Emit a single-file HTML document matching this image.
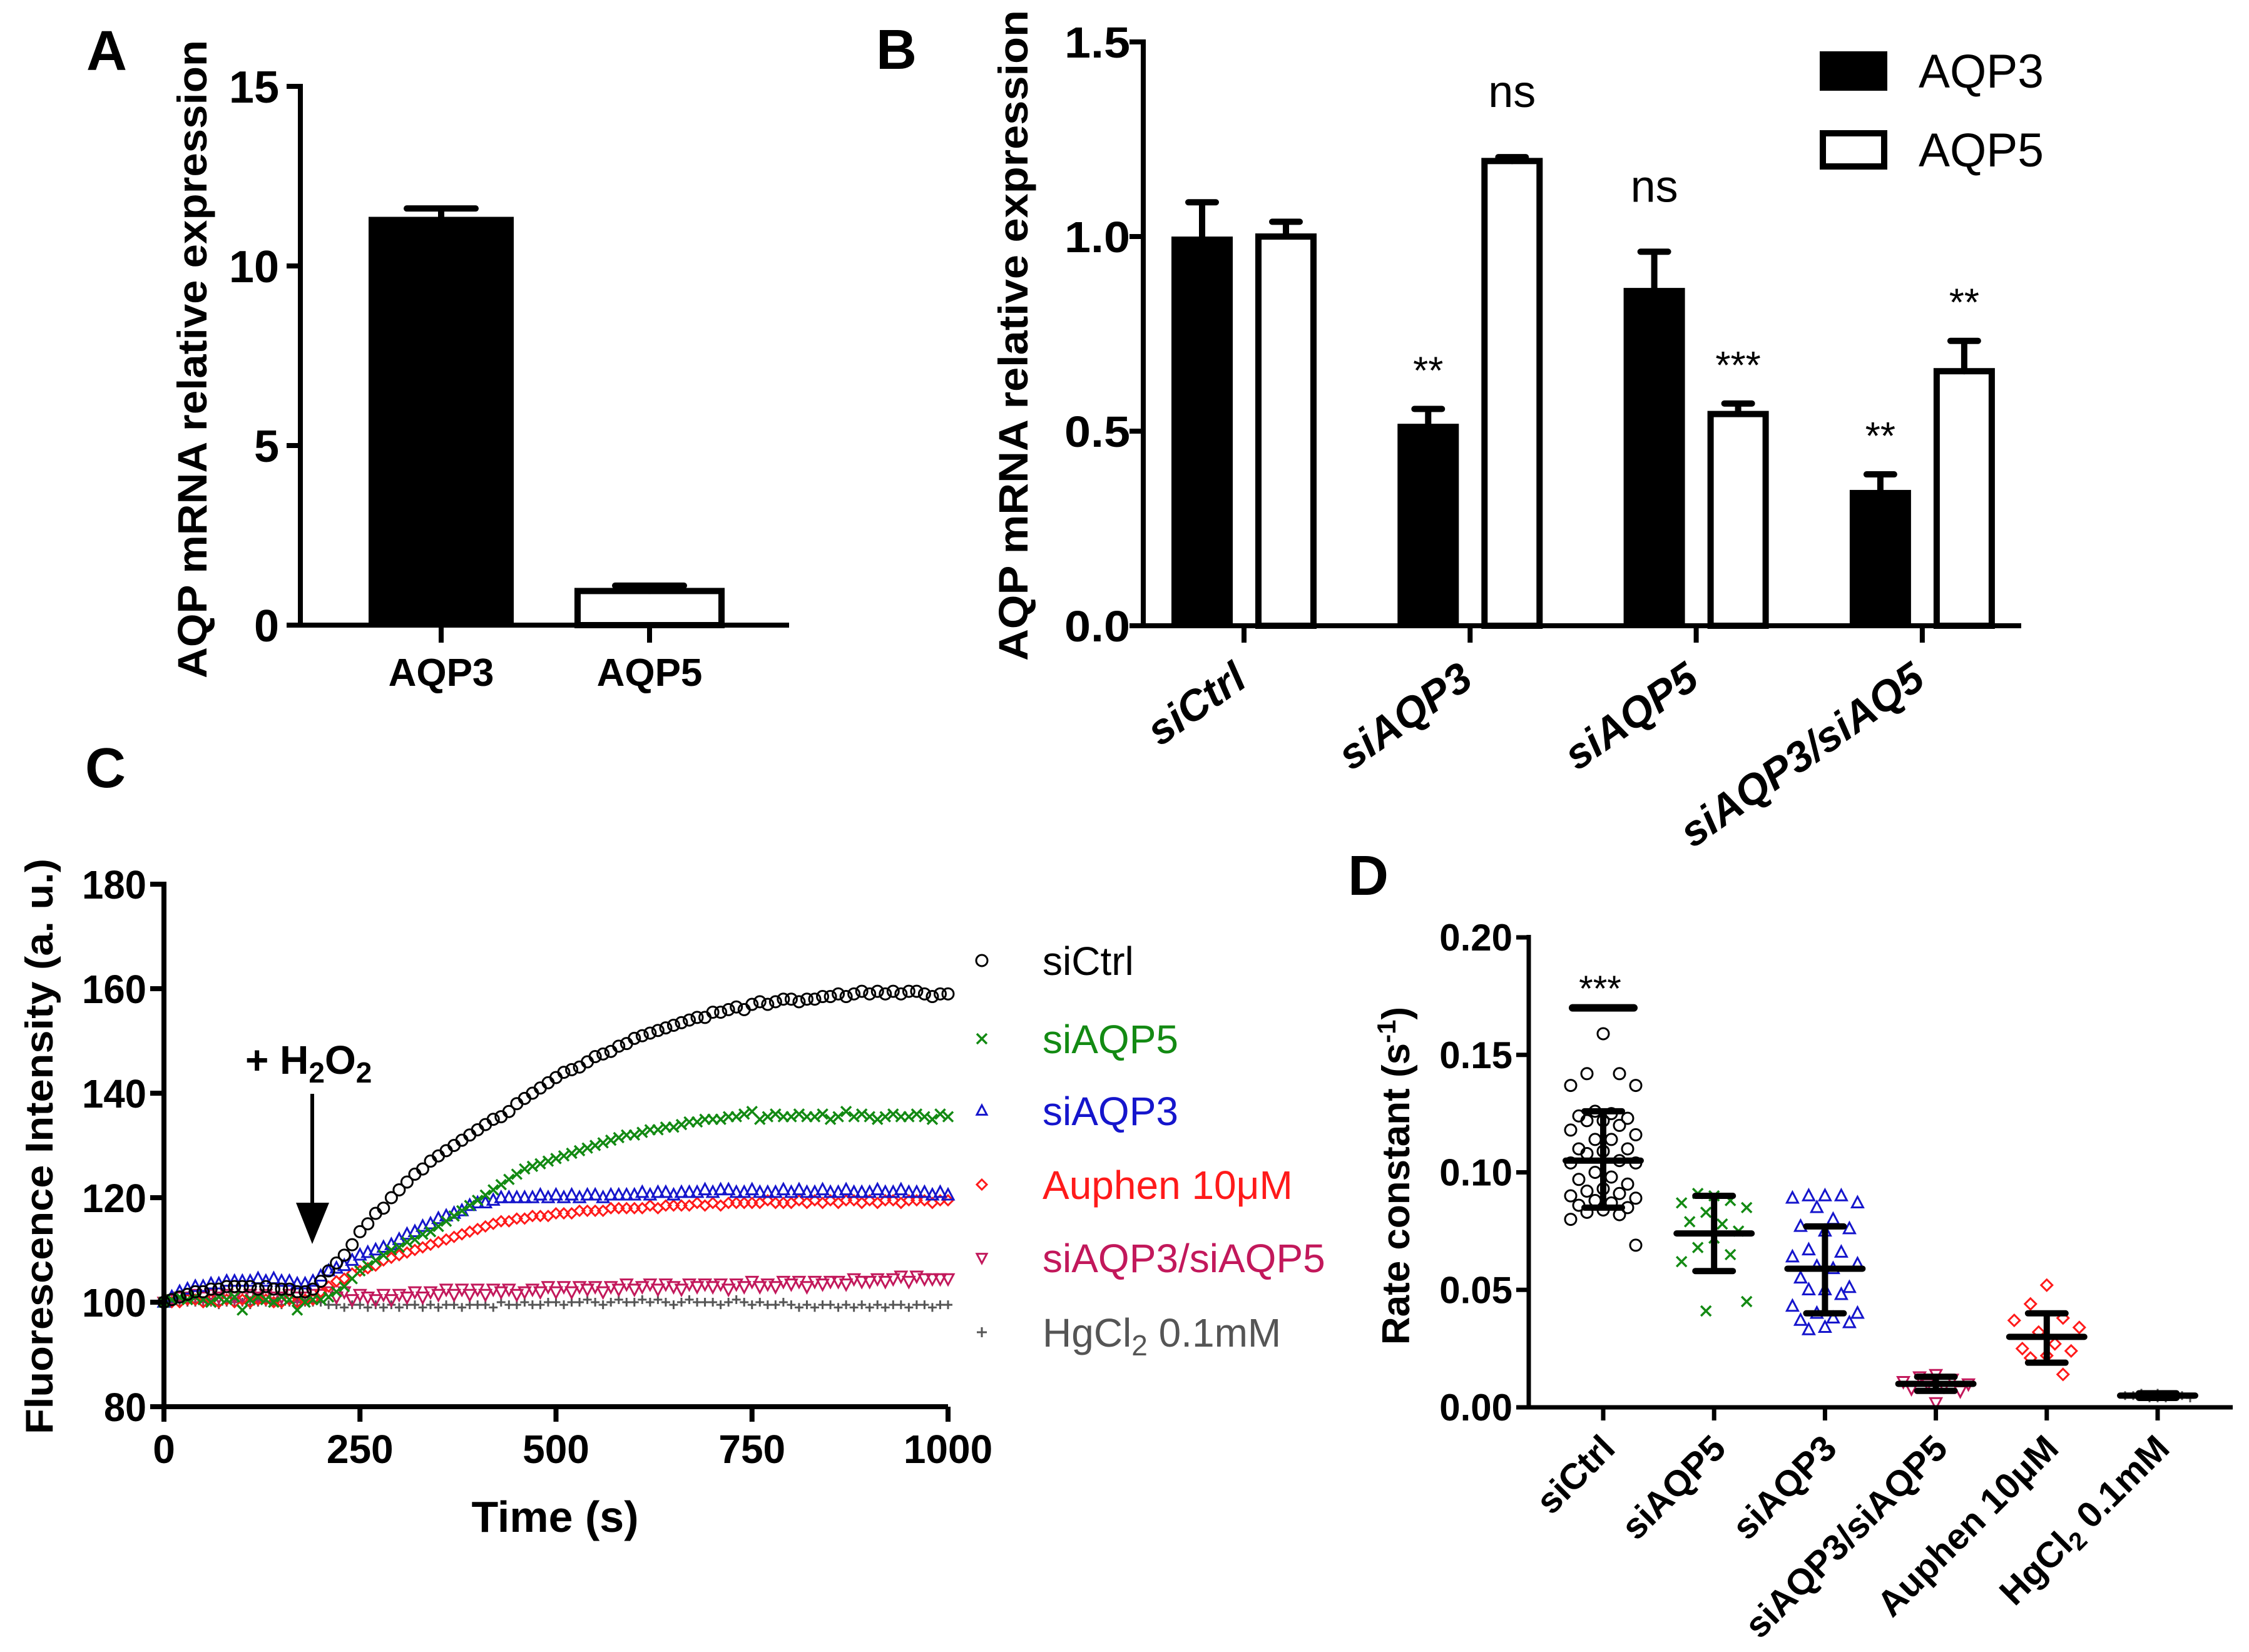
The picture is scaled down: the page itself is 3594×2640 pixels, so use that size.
<!DOCTYPE html>
<html><head><meta charset="utf-8"><style>
html,body{margin:0;padding:0;background:#fff;}
svg{display:block;font-family:"Liberation Sans",Arial,sans-serif;}
</style></head><body>
<svg id="fig" xmlns="http://www.w3.org/2000/svg" width="3594" height="2640" viewBox="0 0 3594 2640">
<rect width="3594" height="2640" fill="#fff"/>
<text x="138" y="112" font-size="90" font-weight="bold">A</text>
<text x="1400" y="110" font-size="90" font-weight="bold">B</text>
<text x="136" y="1258" font-size="90" font-weight="bold">C</text>
<text x="2154" y="1430" font-size="90" font-weight="bold">D</text>
<g id="pa"></g>
<g id="pb"></g>
<g id="pc"></g>
<g id="pd"></g>
</svg>
<script>
// ---------- Panel A data ----------
const aCats = ["AQP3","AQP5"];
const aVals = [11.35, 0.95];
const aErr = [11.6, 1.1];
const aTicks = [0,5,10,15];
// ---------- Panel B data ----------
const bCats = ["siCtrl","siAQP3","siAQP5","siAQP3/siAQ5"];
const bAqp3 = [1.0, 0.519, 0.868, 0.349];
const bAqp3Err = [1.088, 0.557, 0.961, 0.389];
const bAqp5 = [1.0, 1.194, 0.544, 0.654];
const bAqp5Err = [1.038, 1.204, 0.571, 0.732];
const bAqp3Sig = ["", "**", "ns", "**"];
const bAqp5Sig = ["", "ns", "***", "**"];
const bTicks = [0.0,0.5,1.0,1.5];
const bTickLabels = ["0.0","0.5","1.0","1.5"];
// ---------- Panel C data ----------
const cTime = [0,10,20,30,40,50,60,70,80,90,100,110,120,130,140,150,160,170,180,190,200,210,220,230,240,250,260,270,280,290,300,310,320,330,340,350,360,370,380,390,400,410,420,430,440,450,460,470,480,490,500,510,520,530,540,550,560,570,580,590,600,610,620,630,640,650,660,670,680,690,700,710,720,730,740,750,760,770,780,790,800,810,820,830,840,850,860,870,880,890,900,910,920,930,940,950,960,970,980,990,1000];
const cSiCtrl = [100,100.5,101,101.5,102,102,102.5,102.5,103,103,103,103,102.5,103,102.5,102.5,102.5,102,102,102.5,
104,106,107.5,109,111,113.5,115,117,118,120,
121.5,123,124.5,125.5,127,128,129,130,131,132,
133,134,135,135.5,136.5,138,139,140,141,142,
143,144,144.5,145,146,147,147.5,148,149,149.5,
150.5,151,151.5,152,152.5,153,153.5,154,154.5,154.5,
155.5,155.5,156,156.5,156,157,157.5,157,157.5,158,
158,157.5,158,158,158.5,158.5,159,158.5,159,159.5,
159,159.5,159,159.5,159,159.5,159.5,159,158.5,159,159];
const cSiAQP5 = [100,100.5,101,100.5,101,100.5,100,101,100.5,101,98.5,100.5,101,100.5,100,101,100.5,98.5,100,100.5,
100.5,101,102,103,104.5,106,107,108,109,110,
110.5,111.5,112,113,113.5,114.5,115.5,116.5,117.5,118.5,
119.5,120.5,121.5,122.5,123.5,124.5,125.5,126,126.5,127,
127.5,128,128.5,129,129.5,130,130.5,131,131.5,132,
132,132.5,133,133,133.5,133.5,134,134.5,134.5,135,
135,135,135.5,135.5,136,136.5,135,135.5,136,135.5,
135.5,136,135.5,135.5,136,135,135.5,136.5,135.5,136,
135.5,135,135.5,136,135.5,135.5,136,135.5,135,136,135.5];
const cSiAQP3 = [100,101,102,102.5,103,103,103.5,103.5,104,104,104,104,104.5,104,104.5,104,104,103.5,103.5,104,
105,106,106.5,107,108,109,109.5,110,110.5,111,
112,113,113.5,114.5,115,116,116.5,117,117.5,118.5,
119,119,119.5,120,120,120,120,120,120.5,120,
120.5,120,120.5,120,120.5,120.5,120,120.5,120.5,120.5,
120.5,121,120.5,121,121,120.5,121,121,121,121.5,
121,121.5,121.5,121,121,121.5,121,121,121,121.5,
121,121.5,121,121,121.5,121,121,121.5,121,121,
121,121.5,121,121,121.5,121,121,121,120.5,121,120.5];
const cAuphen = [100,100,100,100.5,100.5,100,100.5,100,100.5,100,100.5,100,100.5,100.5,100,100,100.5,100,100.5,100.5,
102,103,104,104.5,105.5,106,106.5,107,108,108.5,
109,109.5,110,110.5,111,111.5,112,112.5,113,113.5,
114,114.5,115,115.5,115.5,116,116,116.5,116.5,116.5,
117,117,117,117.5,117.5,117.5,117.5,118,118,118,
118,118,118.5,118,118.5,118.5,118.5,118.5,119,118.5,
119,118.5,119,119,119,119,119,119.5,119,119,
119,119.5,119,119.5,119,119.5,119,119.5,119.5,119,
119.5,119,119.5,119.5,119,119.5,119.5,119.5,119,119.5,119.5];
const cSi35 = [100,100.5,101,101,101.5,101,101.5,101,101.5,101,101,101.5,101,101.5,101,101,101.5,101,101,101.5,
101.5,102,101,102,100.5,101.5,101,100.5,101.5,100.5,
101.5,101,102,101,102,101.5,102.5,101.5,102.5,101.5,
102.5,101.5,102.5,102,102.5,101.5,102,102.5,102,103,
102,103,102,103,102.5,103,102,103,102.5,103.5,
102.5,103,103.5,102.5,103.5,103,102.5,103.5,103,103.5,
103,103.5,102.5,103.5,103,104,103,103.5,103,104,
103.5,104,103,104,103.5,104,104,103.5,104.5,104,
104,104.5,104,104.5,105,104,105,104.5,104.5,104.5,104.5];
const cHg = [100,100,100,100,100,100,100,99.5,100,100,100,99.5,100,100,100,99.5,100,100,100,100,
100,99.5,99.5,99,99.5,99.5,99,99.5,99,99.5,
99,99.5,99.5,99,99.5,99,99.5,99.5,99,99.5,
99.5,99.5,99,100,99.5,99.5,100,99.5,99.5,100,
100,99.5,100,100,100.5,100,99.5,100,100.5,100,
100,100.5,100,100.5,100,99.5,100,100.5,100,100,
100,99.5,100,100.5,100,99.5,100,99.5,99.5,100,
99.5,99,99.5,99,99.5,99.5,99,99.5,99,99.5,
99,99.5,99,99.5,99.5,99,99.5,99.5,99,99.5,99.5];
const cXTicks = [0,250,500,750,1000];
const cYTicks = [80,100,120,140,160,180];
// ---------- Panel D data ----------
const dCats = ["siCtrl","siAQP5","siAQP3","siAQP3/siAQP5","Auphen 10μM","HgCl2 0.1mM"];
const dSiCtrl = [0.159,0.142,0.142,0.137,0.137,0.126,0.125,0.124,0.123,0.122,0.122,0.12,0.118,0.116,0.114,0.114,0.11,0.11,0.109,0.108,0.105,0.104,0.104,0.1,0.098,0.097,0.095,0.093,0.092,0.091,0.09,0.089,0.088,0.087,0.086,0.085,0.084,0.083,0.082,0.08,0.069];
const dSiAQP5 = [0.09,0.091,0.088,0.087,0.085,0.083,0.078,0.079,0.075,0.072,0.068,0.065,0.062,0.045,0.041];
const dSiAQP3 = [0.09,0.09,0.09,0.089,0.087,0.085,0.08,0.077,0.076,0.075,0.067,0.066,0.064,0.061,0.06,0.059,0.055,0.051,0.05,0.05,0.048,0.043,0.04,0.04,0.038,0.037,0.036,0.034,0.033];
const dSi35 = [0.014,0.013,0.012,0.011,0.01,0.01,0.009,0.008,0.007,0.002];
const dAuphen = [0.052,0.044,0.038,0.037,0.034,0.032,0.027,0.025,0.024,0.022,0.021,0.014];
const dHg = [0.006,0.005,0.005,0.005,0.004,0.004,0.004,0.005,0.005,0.004,0.006,0.005];
const dMean = [0.105,0.074,0.059,0.010,0.030,0.005];
const dSdLow = [0.085,0.058,0.040,0.007,0.019,0.004];
const dSdHigh = [0.126,0.090,0.077,0.013,0.040,0.006];
const dYTicks = [0,0.05,0.1,0.15,0.2];
const dYTickLabels = ["0.00","0.05","0.10","0.15","0.20"];

const NS="http://www.w3.org/2000/svg";
function mk(parent,tag,attrs){const e=document.createElementNS(NS,tag);for(const k in attrs)e.setAttribute(k,attrs[k]);parent.appendChild(e);return e;}
function txt(parent,s,attrs){const e=mk(parent,"text",attrs);e.textContent=s;return e;}

// ===== Panel A =====
(function(){
const g=document.getElementById("pa");
const yA=v=>999-v*(861/15);
const xA=i=>705+i*333;
let ax=mk(g,"path",{d:"M480 134 V999 H1261",fill:"none",stroke:"#000","stroke-width":8});


aTicks.forEach(t=>{
 let tk=mk(g,"line",{x1:458,x2:480,y1:yA(t),y2:yA(t),stroke:"#000","stroke-width":8});
 
 
 let tl=txt(g,String(t),{x:446,y:yA(t)+26,"font-size":72,"font-weight":"bold","text-anchor":"end"});
 
 
});
aCats.forEach((c,i)=>{
 const cx=xA(i);
 let b=mk(g,"rect",{x:cx-115,y:yA(aVals[i]),width:230,height:999-yA(aVals[i]),fill:i==0?"#000":"#fff",stroke:"#000","stroke-width":i==0?2:10});
 
 
 let e=mk(g,"path",{d:`M${cx} ${yA(aVals[i])} V${yA(aErr[i])} M${cx-55} ${yA(aErr[i])} H${cx+55}`,stroke:"#000","stroke-width":10,"stroke-linecap":"round",fill:"none"});
 
 
 let tk=mk(g,"line",{x1:cx,x2:cx,y1:999,y2:1027,stroke:"#000","stroke-width":8});
 
 
 let tl=txt(g,c,{x:cx,y:1096,"font-size":62,"font-weight":"bold","text-anchor":"middle"});
 
 
});
let yt=txt(g,"AQP mRNA relative expression",{x:0,y:0,"font-size":66,"font-weight":"bold","text-anchor":"middle",transform:"translate(330 574) rotate(-90)",textLength:1020,lengthAdjust:"spacingAndGlyphs"});


})();

// ===== Panel B =====
(function(){
const g=document.getElementById("pb");
const yB=v=>1000-v*(933/1.5);
const xB=i=>1988+i*361.3;
let ax=mk(g,"path",{d:"M1827 63 V1000 H3230",fill:"none",stroke:"#000","stroke-width":8});


bTicks.forEach((t,i)=>{
 let tk=mk(g,"line",{x1:1805,x2:1827,y1:yB(t),y2:yB(t),stroke:"#000","stroke-width":8});
 
 
 let tl=txt(g,bTickLabels[i],{x:1806,y:yB(t)+25,"font-size":70,"font-weight":"bold","text-anchor":"end",textLength:105,lengthAdjust:"spacingAndGlyphs"});
 
 
});
bCats.forEach((c,i)=>{
 const cx=xB(i);
 const x3=cx-67, x5=cx+67;
 let b3=mk(g,"rect",{x:x3-49,y:yB(bAqp3[i]),width:98,height:1000-yB(bAqp3[i]),fill:"#000"});
 
 
 let b5=mk(g,"rect",{x:x5-44,y:yB(bAqp5[i]),width:88,height:1000-yB(bAqp5[i]),fill:"#fff",stroke:"#000","stroke-width":10});
 
 
 let e3=mk(g,"path",{d:`M${x3} ${yB(bAqp3[i])} V${yB(bAqp3Err[i])} M${x3-22} ${yB(bAqp3Err[i])} H${x3+22}`,stroke:"#000","stroke-width":10,"stroke-linecap":"round",fill:"none"});
 
 
 let e5=mk(g,"path",{d:`M${x5} ${yB(bAqp5[i])} V${yB(bAqp5Err[i])} M${x5-22} ${yB(bAqp5Err[i])} H${x5+22}`,stroke:"#000","stroke-width":10,"stroke-linecap":"round",fill:"none"});
 
 
 [[bAqp3Sig[i],x3,bAqp3Err[i]],[bAqp5Sig[i],x5,bAqp5Err[i]]].forEach(s=>{
  if(!s[0])return;
  const isNs=s[0]=="ns";
  let st=txt(g,s[0],{x:s[1],y:yB(s[2])-(isNs?80:40),"font-size":isNs?72:62,"text-anchor":"middle"});
  
  
 });
 let tk=mk(g,"line",{x1:cx,x2:cx,y1:1000,y2:1027,stroke:"#000","stroke-width":8});
 
 
 let tl=txt(g,c,{x:0,y:0,"font-size":68,"font-weight":"bold","font-style":"italic","text-anchor":"end",transform:`translate(${cx+8} 1094) rotate(-35)`});
 
 
});
let yt=txt(g,"AQP mRNA relative expression",{x:0,y:0,"font-size":66,"font-weight":"bold","text-anchor":"middle",transform:"translate(1642 536) rotate(-90)",textLength:1040,lengthAdjust:"spacingAndGlyphs"});


let l1=mk(g,"rect",{x:2908,y:82,width:108,height:63,fill:"#000"});


let l2=mk(g,"rect",{x:2913,y:213,width:98,height:53,fill:"#fff",stroke:"#000","stroke-width":10});


let t1=txt(g,"AQP3",{x:3066,y:140,"font-size":76,textLength:200,lengthAdjust:"spacingAndGlyphs"});


let t2=txt(g,"AQP5",{x:3066,y:266,"font-size":76,textLength:200,lengthAdjust:"spacingAndGlyphs"});


})();

// ===== Panel C =====
function marker(g,type,x,y,color,s){
 let e;
 if(type=="circle") e=mk(g,"circle",{cx:x,cy:y,r:s,fill:"none",stroke:color,"stroke-width":3});
 else if(type=="x") e=mk(g,"path",{d:`M${x-s} ${y-s}L${x+s} ${y+s}M${x-s} ${y+s}L${x+s} ${y-s}`,stroke:color,"stroke-width":3.5,fill:"none"});
 else if(type=="tri") e=mk(g,"path",{d:`M${x} ${y-s*1.1}L${x+s} ${y+s*0.8}L${x-s} ${y+s*0.8}Z`,stroke:color,"stroke-width":3,fill:"none"});
 else if(type=="dia") e=mk(g,"path",{d:`M${x} ${y-s}L${x+s} ${y}L${x} ${y+s}L${x-s} ${y}Z`,stroke:color,"stroke-width":3,fill:"none"});
 else if(type=="itri") e=mk(g,"path",{d:`M${x} ${y+s*1.1}L${x+s} ${y-s*0.8}L${x-s} ${y-s*0.8}Z`,stroke:color,"stroke-width":3,fill:"none"});
 else e=mk(g,"path",{d:`M${x-s} ${y}H${x+s}M${x} ${y-s}V${y+s}`,stroke:color,"stroke-width":3,fill:"none"});
 return e;
}
(function(){
const g=document.getElementById("pc");
const xC=t=>262+t*1.253;
const yC=v=>2248-(v-80)*8.35;
const series=[
 ["siCtrl",cSiCtrl,"circle","#000",9],
 ["siAQP5",cSiAQP5,"x","#138a13",8],
 ["siAQP3",cSiAQP3,"tri","#1515cc",9],
 ["Auphen 10μM",cAuphen,"dia","#ff1a1a",8],
 ["siAQP3/siAQP5",cSi35,"itri","#c2185b",9],
 ["HgCl2 0.1mM",cHg,"plus","#555",7]
];
const order=[5,4,3,2,1,0];
order.forEach(si=>{
 const s=series[si];
 const sg=mk(g,"g",{});
 
 
 cTime.forEach((t,i)=>{
  let m=marker(sg,s[2],xC(t),yC(s[1][i]),s[3],s[4]);
  
  
 });
});
let ax=mk(g,"path",{d:"M262 1409 V2248 H1515",fill:"none",stroke:"#000","stroke-width":8});


cYTicks.forEach(t=>{
 let tk=mk(g,"line",{x1:240,x2:262,y1:yC(t),y2:yC(t),stroke:"#000","stroke-width":8});
 
 
 let tl=txt(g,String(t),{x:234,y:yC(t)+23,"font-size":64,"font-weight":"bold","text-anchor":"end",textLength:t>=100?103:68,lengthAdjust:"spacingAndGlyphs"});
 
 
});
cXTicks.forEach(t=>{
 let tk=mk(g,"line",{x1:xC(t),x2:xC(t),y1:2248,y2:2272,stroke:"#000","stroke-width":8});
 
 
 let tl=txt(g,String(t),{x:xC(t),y:2338,"font-size":64,"font-weight":"bold","text-anchor":"middle"});
 
 
});
let xt=txt(g,"Time (s)",{x:887,y:2448,"font-size":70,"font-weight":"bold","text-anchor":"middle"});


let yt=txt(g,"Fluorescence Intensity (a. u.)",{x:0,y:0,"font-size":62,"font-weight":"bold","text-anchor":"middle",transform:"translate(84 1832) rotate(-90)",textLength:920,lengthAdjust:"spacingAndGlyphs"});


let ann=mk(g,"text",{x:392,y:1716,"font-size":64,"font-weight":"bold"});


ann.innerHTML='+ H<tspan font-size="46" dy="14">2</tspan><tspan dy="-14">O</tspan><tspan font-size="46" dy="14">2</tspan>';
let arr=mk(g,"path",{d:"M499 1748 V1930",stroke:"#000","stroke-width":6});


let ah=mk(g,"path",{d:"M473 1922 L526 1922 L499 1988 Z",fill:"#000"});


const ly=[1535,1660,1775,1893,2010,2129];
series.forEach((s,i)=>{
 let m=marker(g,s[2],1569,ly[i],s[3],s[2]=="circle"?9:8);
 
 
 let t=mk(g,"text",{x:1666,y:ly[i]+23,"font-size":64,fill:s[3]});
 
 
 if(s[0]=="HgCl2 0.1mM") t.innerHTML='HgCl<tspan font-size="46" dy="14">2</tspan><tspan dy="-14"> 0.1mM</tspan>';
 else t.textContent=s[0];
});
})();

// ===== Panel D =====
(function(){
const g=document.getElementById("pd");
const yD=v=>2249-v*3755;
const xD=i=>2562+i*177.2;
const groups=[[dSiCtrl,"circle","#000",9],[dSiAQP5,"x","#138a13",8],[dSiAQP3,"tri","#1515cc",9],[dSi35,"itri","#c2185b",9],[dAuphen,"dia","#ff1a1a",9],[dHg,"plus","#555",7]];
groups.forEach((gr,gi)=>{
 const cx=xD(gi);
 const sg=mk(g,"g",{});
 
 
 const jit=[0,-26,26,-52,52,-13,13,-39,39];
 gr[0].forEach((v,i)=>{
  let m=marker(sg,gr[1],cx+jit[i%9],yD(v),gr[2],gr[3]);
  
  
 });
 let mb=mk(g,"path",{d:`M${cx-60} ${yD(dMean[gi])} H${cx+60} M${cx} ${yD(dSdLow[gi])} V${yD(dSdHigh[gi])} M${cx-30} ${yD(dSdLow[gi])} H${cx+30} M${cx-30} ${yD(dSdHigh[gi])} H${cx+30}`,stroke:"#000","stroke-width":10,"stroke-linecap":"round",fill:"none"});
 
 
 let tk=mk(g,"line",{x1:cx,x2:cx,y1:2249,y2:2270,stroke:"#000","stroke-width":7});
 
 
 let tl=mk(g,"text",{x:0,y:0,"font-size":58,"font-weight":"bold","text-anchor":"end",transform:`translate(${cx+22} 2318) rotate(-45)`});
 
 
 if(dCats[gi]=="HgCl2 0.1mM") tl.innerHTML='HgCl<tspan font-size="40" dy="10">2</tspan><tspan dy="-10"> 0.1mM</tspan>';
 else tl.textContent=dCats[gi];
});
let ax=mk(g,"path",{d:"M2443 1494 V2249 H3568",fill:"none",stroke:"#000","stroke-width":7});


dYTicks.forEach((t,i)=>{
 let tk=mk(g,"line",{x1:2423,x2:2443,y1:yD(t),y2:yD(t),stroke:"#000","stroke-width":7});
 
 
 let tl=txt(g,dYTickLabels[i],{x:2417,y:yD(t)+21,"font-size":60,"font-weight":"bold","text-anchor":"end"});
 
 
});
let sb=mk(g,"line",{x1:2513,x2:2611,y1:yD(0.17),y2:yD(0.17),stroke:"#000","stroke-width":12,"stroke-linecap":"round"});


let st=txt(g,"***",{x:2557,y:1600,"font-size":58,"text-anchor":"middle"});


let yt=mk(g,"text",{x:0,y:0,"font-size":62,"font-weight":"bold","text-anchor":"middle",transform:"translate(2252 1879) rotate(-90)"});


yt.innerHTML='Rate constant (s<tspan font-size="42" dy="-22">-1</tspan><tspan dy="22">)</tspan>';
})();
</script>
</body></html>
